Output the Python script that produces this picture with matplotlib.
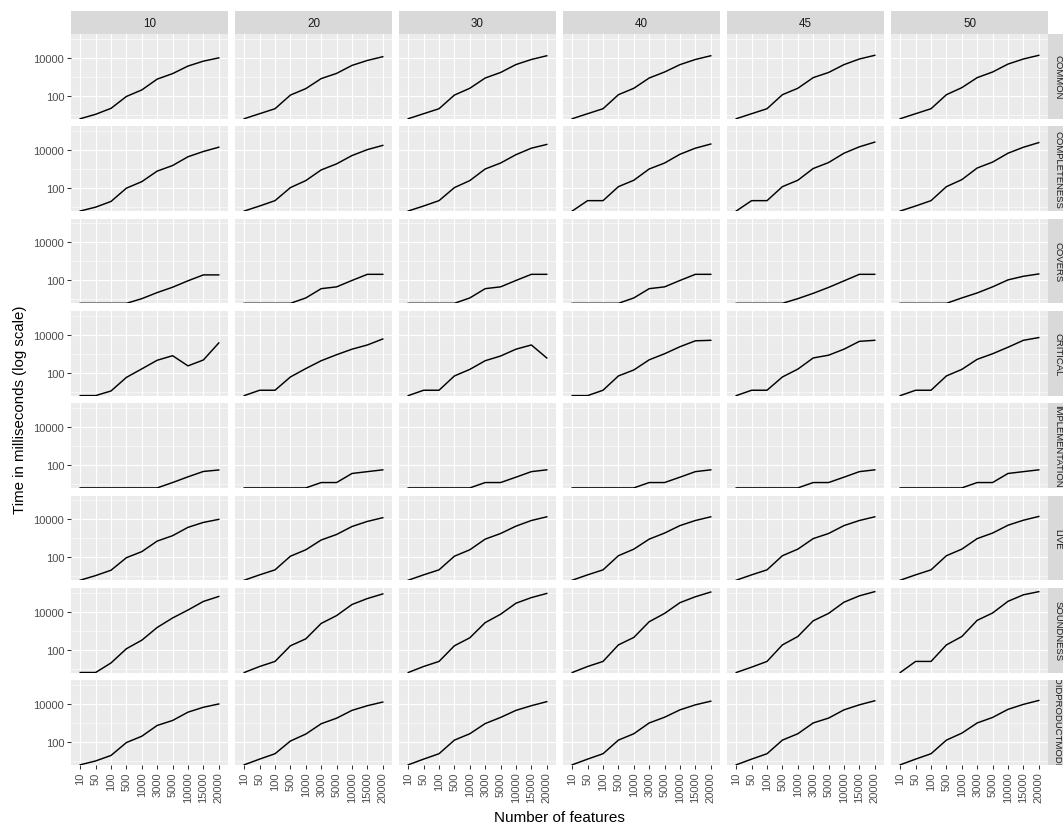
import numpy as np
import matplotlib
matplotlib.use("Agg")
import matplotlib.pyplot as plt
from matplotlib.ticker import FixedLocator, NullFormatter

plt.rcParams['font.family'] = ['Liberation Sans', 'DejaVu Sans']

features = ["10", "50", "100", "500", "1000", "3000", "5000", "10000", "15000", "20000"]
facet_cols = ["10", "20", "30", "40", "45", "50"]
facet_rows = ["COMMON", "COMPLETENESS", "COVERS", "CRITICAL",
              "IMPLEMENTATION", "LIVE", "SOUNDNESS", "VOIDPRODUCTMODEL"]

# time in ms (0 = below the log scale, drawn at the panel edge as in ggplot)
common = [
    [0, 10.7, 22, 93, 205, 760, 1480, 3700, 6700, 10000],
    [0, 11.5, 21, 110, 240, 810, 1520, 4000, 7300, 11500],
    [0, 11.5, 21, 110, 250, 870, 1700, 4450, 8200, 12900],
    [0, 11.5, 21, 115, 250, 870, 1800, 4400, 8200, 12900],
    [0, 11.5, 21, 115, 250, 910, 1700, 4400, 8700, 13600],
    [0, 11.5, 21, 115, 270, 910, 1800, 4700, 8700, 13600],
]
completeness = [
    [0, 10, 20, 100, 220, 790, 1550, 4500, 8500, 14300],
    [0, 11.5, 22, 107, 250, 910, 1900, 5200, 10700, 17800],
    [0, 11.5, 22, 107, 250, 1020, 2100, 5800, 12700, 20000],
    [0, 22, 22, 120, 260, 1020, 2100, 6100, 12700, 21000],
    [0, 22, 22, 120, 260, 1080, 2230, 6900, 15000, 26500],
    [0, 11.5, 22, 120, 280, 1150, 2350, 6900, 14200, 25000],
]
covers = [
    [0, 0, 0, 0, 11, 23, 44, 96, 196, 196],
    [0, 0, 0, 0, 12, 37, 46, 100, 210, 210],
    [0, 0, 0, 0, 12, 37, 46, 100, 210, 210],
    [0, 0, 0, 0, 12, 37, 46, 100, 210, 210],
    [0, 0, 0, 0, 11, 21, 43, 95, 210, 210],
    [0, 0, 0, 0, 12, 22, 46, 107, 166, 220],
]
critical = [
    [0, 0, 11, 57, 160, 455, 790, 230, 470, 3700],
    [0, 12, 12, 60, 166, 430, 890, 1740, 2900, 6000],
    [0, 12, 12, 68, 150, 430, 760, 1740, 2900, 600],
    [0, 0, 12, 68, 140, 480, 1000, 2350, 4800, 5100],
    [0, 12, 12, 60, 155, 600, 840, 1740, 4500, 5100],
    [0, 12, 12, 68, 150, 510, 1000, 2200, 5100, 7100],
]
implementation = [
    [0, 0, 0, 0, 0, 0, 12, 24, 46, 55],
    [0, 0, 0, 0, 0, 12, 12, 36, 45, 56],
    [0, 0, 0, 0, 0, 12, 12, 23, 45, 56],
    [0, 0, 0, 0, 0, 12, 12, 23, 45, 56],
    [0, 0, 0, 0, 0, 12, 12, 23, 45, 56],
    [0, 0, 0, 0, 0, 12, 12, 36, 45, 56],
]
live = [
    [0, 11, 21, 96, 200, 720, 1380, 3800, 6900, 10000],
    [0, 12, 22, 115, 250, 820, 1600, 4200, 7800, 12200],
    [0, 12, 22, 115, 250, 910, 1800, 4400, 8700, 13600],
    [0, 12, 22, 122, 270, 910, 1900, 4700, 8700, 13600],
    [0, 12, 22, 122, 270, 970, 1800, 4700, 8700, 13600],
    [0, 12, 22, 122, 270, 970, 1900, 4900, 9000, 14200],
]
soundness = [
    [0, 0, 20, 112, 315, 1470, 4650, 12200, 34500, 63000],
    [0, 13, 24, 160, 370, 2400, 6200, 23800, 49000, 86000],
    [0, 13, 24, 160, 420, 2650, 7300, 27800, 55000, 91000],
    [0, 13, 24, 178, 440, 2950, 8100, 29800, 61000, 108000],
    [0, 12, 24, 178, 490, 3300, 8100, 31500, 68000, 113000],
    [0, 24, 24, 178, 490, 3500, 8500, 35000, 77000, 113000],
]
voidproductmodel = [
    [0, 10, 19.5, 93, 200, 740, 1350, 3700, 6700, 10000],
    [0, 12.5, 24, 112, 260, 910, 1780, 4600, 8100, 12600],
    [0, 12.5, 24, 125, 270, 930, 1950, 4600, 8100, 13200],
    [0, 12.5, 24, 125, 270, 1000, 2000, 4900, 9000, 14000],
    [0, 12.5, 24, 125, 270, 1000, 1800, 4900, 9000, 14700],
    [0, 12.5, 24, 125, 290, 1000, 1950, 5200, 9500, 15300],
]

row_data = [common, completeness, covers, critical, implementation,
            live, soundness, voidproductmodel]

# ---- shared log scale limits with ggplot-style 5% expansion ----
allv = np.array(row_data, dtype=float).ravel()
pos = allv[allv > 0]
lo, hi = np.log10(pos.min()), np.log10(pos.max())
pad = 0.05 * (hi - lo)
ylim = (10 ** (lo - pad), 10 ** (hi + pad))

W, H = 1063, 828
fig = plt.figure(figsize=(W / 100, H / 100), dpi=100)
fig.patch.set_facecolor('white')

col_x0, col_pitch, pw = 71, 164, 157
row_y0, row_pitch, ph = 35, 92.3, 84.7
strip_h = 22.7


def rect(x0, y0, w, h):
    return [x0 / W, 1 - (y0 + h) / H, w / W, h / H]


PANEL = '#EBEBEB'
STRIP = '#D9D9D9'
TICKC = '#333333'
LABC = '#4D4D4D'

xs = np.arange(len(features))

for r, rname in enumerate(facet_rows):
    y0 = row_y0 + r * row_pitch
    for c, cname in enumerate(facet_cols):
        x0 = col_x0 + c * col_pitch
        ax = fig.add_axes(rect(x0, y0, pw, ph))
        ax.set_facecolor(PANEL)
        for s in ax.spines.values():
            s.set_visible(False)
        ax.set_yscale('log')
        ax.set_ylim(*ylim)
        ax.set_xlim(-0.6, len(features) - 1 + 0.6)
        ax.yaxis.set_major_locator(FixedLocator([1, 100, 10000, 1e6]))
        ax.yaxis.set_minor_locator(FixedLocator([10, 1000, 100000]))
        ax.yaxis.set_minor_formatter(NullFormatter())
        ax.set_xticks(xs)
        ax.set_axisbelow(True)
        ax.grid(True, which='major', color='white', linewidth=0.85)
        ax.grid(True, which='minor', axis='y', color='white', linewidth=0.42)
        ax.tick_params(axis='both', which='major', length=2.8, width=0.75,
                       color=TICKC, labelcolor=LABC, labelsize=8.0, pad=2.0)
        ax.tick_params(axis='y', which='minor', length=0)
        if c == 0:
            ax.set_yticklabels(['1', '100', '10000', '1e+06'])
        else:
            ax.tick_params(axis='y', which='major', length=0, labelleft=False)
        if r == len(facet_rows) - 1:
            ax.set_xticklabels(features, rotation=90, va='top', ha='center')
        else:
            ax.tick_params(axis='x', length=0, labelbottom=False)

        vals = np.array(row_data[r][c], dtype=float)
        vals = np.where(vals > 0, vals, ylim[0])
        ax.plot(xs, vals, color='black', linewidth=1.05)

        if r == 0:
            sax = fig.add_axes(rect(x0, y0 - strip_h, pw, strip_h))
            sax.set_facecolor(STRIP)
            sax.set_xticks([]); sax.set_yticks([])
            for s in sax.spines.values():
                s.set_visible(False)
            sax.text(0.5, 0.5, cname, ha='center', va='center',
                     fontsize=8.4, color='#1A1A1A', transform=sax.transAxes)

    # right strip (partly cut by the figure edge, as in the reference)
    sx0 = col_x0 + 5 * col_pitch + pw
    rax = fig.add_axes(rect(sx0, y0, strip_h, ph))
    rax.set_facecolor(STRIP)
    rax.set_xticks([]); rax.set_yticks([])
    for s in rax.spines.values():
        s.set_visible(False)
    rax.text((1057.8 - sx0) / strip_h, 0.5, rname, ha='center', va='center',
             rotation=-90, fontsize=6.8, color='#1A1A1A',
             transform=rax.transAxes, clip_on=True)

fig.text((col_x0 + col_x0 + 5 * col_pitch + pw) / 2 / W, 1 - 818 / H,
         "Number of features", ha='center', va='center', fontsize=11,
         color='black')
fig.text(20 / W, 1 - 410 / H,
         "Time in milliseconds (log scale)", ha='center', va='center',
         rotation=90, fontsize=10.8, color='black')

fig.savefig('out.png', dpi=100, facecolor='white')
